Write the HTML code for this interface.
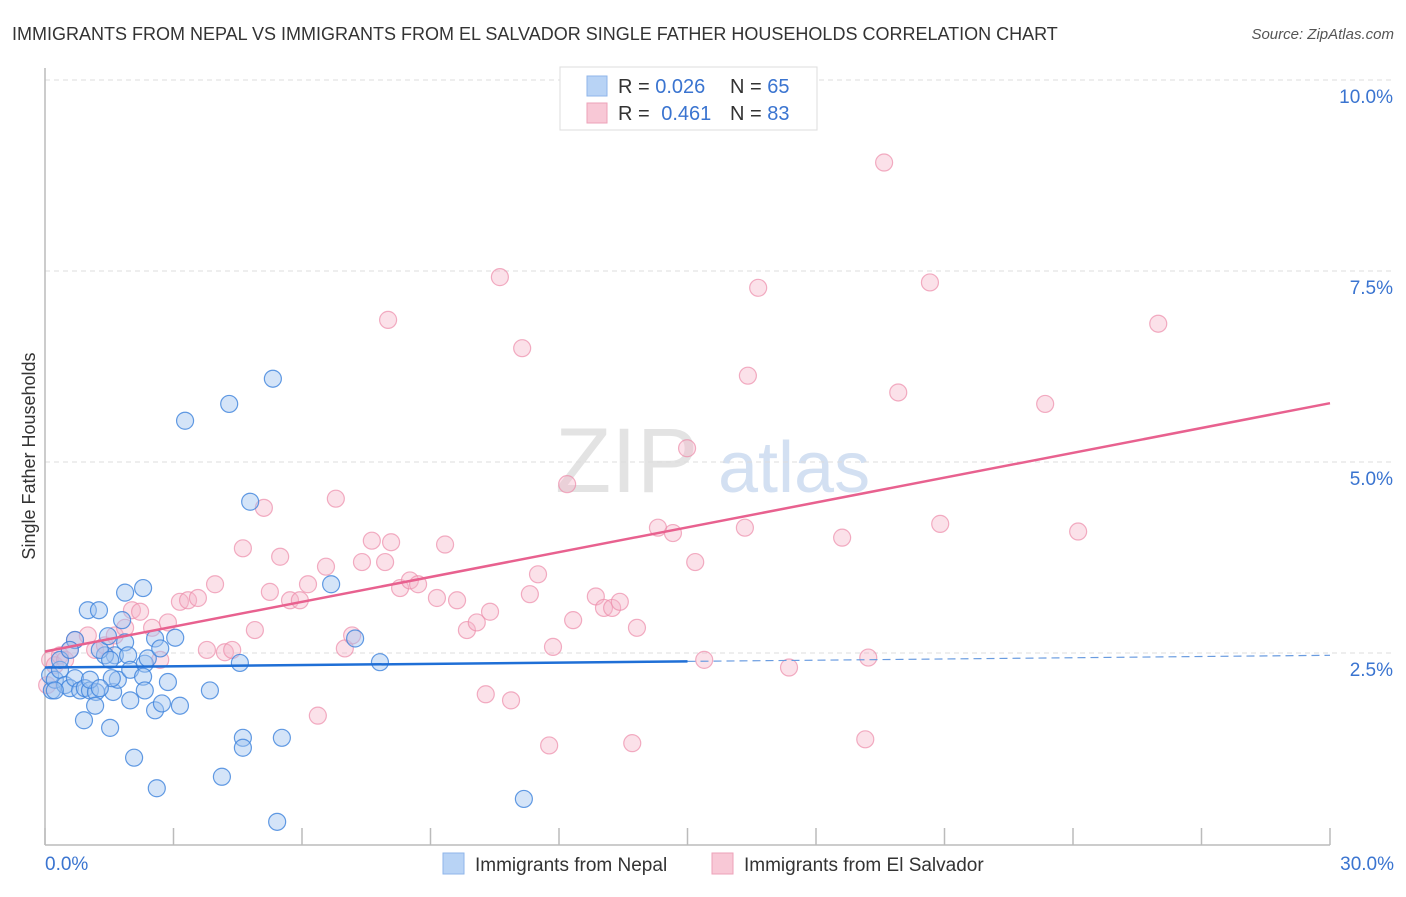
<!DOCTYPE html>
<html><head><meta charset="utf-8"><style>
body{margin:0;background:#fff;font-family:"Liberation Sans",sans-serif;}
svg text{font-family:"Liberation Sans",sans-serif;}
</style></head><body>
<svg width="1406" height="892" xmlns="http://www.w3.org/2000/svg">
<text x="12" y="40" font-size="18" fill="#333">IMMIGRANTS FROM NEPAL VS IMMIGRANTS FROM EL SALVADOR SINGLE FATHER HOUSEHOLDS CORRELATION CHART</text>
<text x="1394" y="39" font-size="15" fill="#555" text-anchor="end" font-style="italic">Source: ZipAtlas.com</text>
<g>
<text x="555" y="492" font-size="92" fill="#ddd" font-family="Liberation Serif" opacity="0.8">ZIP</text>
<text x="718" y="492" font-size="72" fill="#c9d9ef" opacity="0.8">atlas</text>
</g>
<g id="grid"></g>
<g id="axes"></g>
<g id="marks"></g>
<text x="35" y="456" font-size="18" fill="#333" text-anchor="middle" transform="rotate(-90 35 456)">Single Father Households</text>
<g>
<rect x="560" y="67" width="257" height="63" fill="#fff" stroke="#ddd"/>
<rect x="587" y="76" width="20" height="20" fill="#b8d3f5" stroke="#8fb6ea"/>
<rect x="587" y="103" width="20" height="20" fill="#f8c8d6" stroke="#eda2b8"/>
<text x="618" y="93" font-size="20" fill="#333">R = <tspan fill="#3a74d0">0.026</tspan></text>
<text x="730" y="93" font-size="20" fill="#333">N = <tspan fill="#3a74d0">65</tspan></text>
<text x="618" y="120" font-size="20" fill="#333">R = <tspan fill="#3a74d0" dx="6">0.461</tspan></text>
<text x="730" y="120" font-size="20" fill="#333">N = <tspan fill="#3a74d0">83</tspan></text>
</g>
<g>
<rect x="443" y="853" width="21" height="21" fill="#b8d3f5" stroke="#8fb6ea"/>
<text x="475" y="871" font-size="19" fill="#333">Immigrants from Nepal</text>
<rect x="712" y="853" width="21" height="21" fill="#f8c8d6" stroke="#eda2b8"/>
<text x="744" y="871" font-size="19" fill="#333">Immigrants from El Salvador</text>
</g>
</svg>
<script>
const yTicks=[2.5,5.0,7.5,10.0];
const yTickLabels=["2.5%","5.0%","7.5%","10.0%"];
const xTickLabels=["0.0%","30.0%"];
const nepalX=[0.16,0.12,0.23,0.35,0.47,0.58,0.7,0.82,0.93,1.05,1.19,0.91,1.17,1.52,1.59,1.7,1.63,1.40,1.28,0.70,1.47,1.87,1.94,1.99,2.33,2.29,2.40,2.57,2.69,2.57,2.73,2.87,3.15,3.04,2.08,2.61,1.52,1.00,1.26,1.87,2.29,1.80,3.85,4.13,4.62,4.62,4.55,5.53,5.42,6.68,7.24,7.82,11.18,4.79,3.27,4.30,5.32,1.56,1.05,0.35,0.58,2.33,1.28,0.23,1.99];
const nepalY=[2.01,2.21,2.15,2.28,2.08,2.04,2.17,2.01,2.04,2.01,1.99,1.62,1.81,1.52,1.99,2.15,2.47,2.47,2.54,2.67,2.72,2.64,2.47,2.28,2.36,2.19,2.43,2.69,2.56,1.75,1.84,2.12,1.81,2.70,1.13,0.73,2.41,3.06,3.06,3.29,3.35,2.93,2.01,0.88,1.39,1.26,2.37,1.39,0.29,3.40,2.69,2.38,0.59,4.48,5.54,5.76,6.09,2.17,2.15,2.41,2.54,2.01,2.04,2.01,1.88];
const elsX=[0.12,0.23,0.35,0.47,0.58,0.70,1.00,1.17,1.40,1.63,1.87,2.03,2.22,2.50,2.69,2.87,3.15,3.34,3.57,3.78,3.97,4.20,4.37,4.90,4.62,5.25,5.49,5.72,5.95,6.14,6.37,6.56,6.79,7.00,7.17,7.40,7.63,7.94,8.08,8.29,8.52,8.71,9.15,9.34,9.62,9.85,10.08,10.29,10.39,10.62,10.88,11.14,11.32,11.51,11.77,11.86,12.19,12.33,12.86,13.05,13.24,13.42,13.71,13.82,14.31,14.66,14.99,15.18,15.39,16.34,16.41,16.65,17.37,18.61,19.15,19.22,19.59,19.92,20.66,20.90,23.35,24.12,25.99,8.01,5.11,0.05];
const elsY=[2.41,2.34,2.47,2.41,2.54,2.67,2.73,2.54,2.60,2.73,2.83,3.06,3.04,2.83,2.41,2.90,3.17,3.19,3.22,2.54,3.40,2.51,2.54,2.80,3.87,3.30,3.76,3.19,3.19,3.40,1.68,3.63,4.52,2.56,2.73,3.69,3.97,3.69,3.95,3.35,3.45,3.40,3.22,3.92,3.19,2.80,2.90,1.96,3.04,7.42,1.88,6.49,3.27,3.53,1.29,2.58,4.71,2.93,3.24,3.09,3.09,3.17,1.32,2.83,4.14,4.07,5.18,3.69,2.41,4.14,6.13,7.28,2.31,4.01,1.37,2.44,8.92,5.91,7.35,4.19,5.76,4.09,6.81,6.86,4.40,2.08];
const nepalTrend=[2.31,2.47];
const elsTrend=[2.52,5.77];
const NS='http://www.w3.org/2000/svg';
const X0=45,X1=1330,Y0=844,PPY=76.4;
const xs=v=>X0+(v/30)*(X1-X0);
const ys=v=>Y0-v*PPY;
function mk(tag,attrs,parent){const e=document.createElementNS(NS,tag);for(const k in attrs)e.setAttribute(k,attrs[k]);document.getElementById(parent).appendChild(e);return e;}
// grid
yTicks.forEach((t,i)=>{
 const g=mk('line',{x1:X0,x2:1394,y1:ys(t),y2:ys(t),stroke:'#ddd','stroke-dasharray':'5,4'},'grid');
 
 
 const l=mk('text',{x:1393,y:ys(t)+23,'font-size':19,fill:'#3a74d0','text-anchor':'end'},'grid');
 l.textContent=yTickLabels[i];
 
 
});
const ax=mk('line',{x1:X0,x2:X0,y1:68,y2:845,stroke:'#bbb','stroke-width':1.5},'axes');


const bx=mk('line',{x1:X0,x2:X1,y1:845,y2:845,stroke:'#bbb','stroke-width':1.5},'axes');


for(let i=0;i<=10;i++){
 const t=mk('line',{x1:xs(i*3),x2:xs(i*3),y1:828,y2:845,stroke:'#bbb','stroke-width':1.5},'axes');
 
 
}
[[0,'start',45],[30,'end',1394]].forEach((d,i)=>{
 const l=mk('text',{x:d[2],y:870,'font-size':19,fill:'#3a74d0','text-anchor':d[1]},'axes');
 l.textContent=xTickLabels[i];
 
 
});
// points
elsX.forEach((x,i)=>{
 const c=mk('circle',{cx:xs(x),cy:ys(elsY[i]),r:8.5,fill:'rgba(246,180,200,0.4)',stroke:'rgba(236,140,170,0.7)','stroke-width':1.2},'marks');
 
 
});
nepalX.forEach((x,i)=>{
 const c=mk('circle',{cx:xs(x),cy:ys(nepalY[i]),r:8.5,fill:'rgba(160,196,240,0.45)',stroke:'rgba(60,130,220,0.8)','stroke-width':1.2},'marks');
 
 
});
// trends
const pt=mk('line',{x1:xs(0),y1:ys(elsTrend[0]),x2:xs(30),y2:ys(elsTrend[1]),stroke:'#e8618f','stroke-width':2.5},'marks');


const midV=nepalTrend[0]+(nepalTrend[1]-nepalTrend[0])*0.5;
const bt=mk('line',{x1:xs(0),y1:ys(nepalTrend[0]),x2:xs(15),y2:ys(midV),stroke:'#1f6fd6','stroke-width':2.5},'marks');


const bd=mk('line',{x1:xs(15),y1:ys(midV),x2:xs(30),y2:ys(nepalTrend[1]),stroke:'#6a9ce0','stroke-width':1.2,'stroke-dasharray':'8,5'},'marks');


</script>
</body></html>
